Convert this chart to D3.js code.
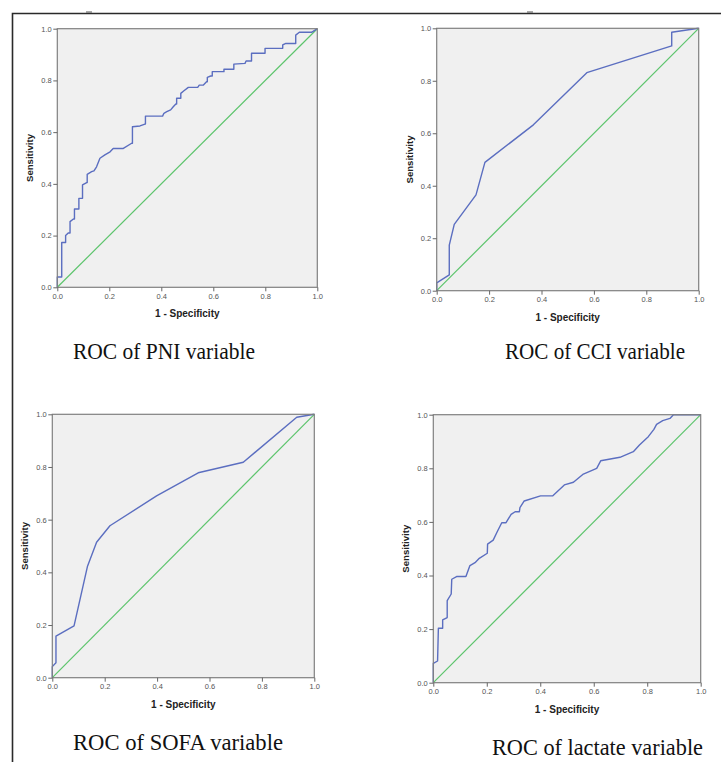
<!DOCTYPE html>
<html>
<head>
<meta charset="utf-8">
<script src="https://cdn.jsdelivr.net/npm/d3@7.9.0/dist/d3.min.js"></script>
<style>
  html, body { margin: 0; padding: 0; background: #fff; }
  svg { display: block; }
</style>
</head>
<body>
<div id="chart"></div>
<script>
// ===============================
// DATA: [1 - specificity, sensitivity]
// ===============================
const pniRoc = [
  [0,0],[0,0.04],[0.017,0.04],[0.017,0.173],[0.032,0.173],[0.032,0.20],[0.042,0.21],
  [0.049,0.21],[0.049,0.254],[0.062,0.264],[0.066,0.264],[0.066,0.303],[0.083,0.303],
  [0.083,0.344],[0.097,0.344],[0.097,0.396],[0.113,0.405],[0.115,0.405],[0.115,0.437],
  [0.132,0.447],[0.141,0.45],[0.151,0.466],[0.164,0.499],[0.183,0.512],[0.203,0.524],
  [0.215,0.537],[0.254,0.537],[0.286,0.557],[0.289,0.557],[0.289,0.621],[0.318,0.624],
  [0.337,0.631],[0.339,0.631],[0.339,0.662],[0.405,0.662],[0.41,0.673],[0.421,0.679],
  [0.436,0.686],[0.446,0.698],[0.456,0.709],[0.459,0.709],[0.459,0.731],[0.472,0.731],
  [0.475,0.731],[0.475,0.75],[0.487,0.76],[0.504,0.773],[0.54,0.773],[0.546,0.782],
  [0.562,0.782],[0.574,0.795],[0.577,0.795],[0.577,0.812],[0.59,0.817],[0.596,0.817],
  [0.596,0.834],[0.638,0.834],[0.641,0.834],[0.641,0.843],[0.677,0.843],[0.679,0.843],
  [0.679,0.863],[0.722,0.866],[0.726,0.875],[0.744,0.875],[0.747,0.875],[0.747,0.905],
  [0.796,0.905],[0.799,0.905],[0.799,0.924],[0.863,0.924],[0.867,0.924],[0.867,0.937],
  [0.879,0.943],[0.914,0.943],[0.917,0.943],[0.917,0.975],[0.931,0.986],[0.978,0.986],[1,1]
];
const cciRoc = [
  [0,0],[0,0.03],[0.048,0.06],[0.048,0.174],[0.067,0.253],[0.15,0.365],[0.184,0.489],
  [0.369,0.632],[0.573,0.831],[0.897,0.933],[0.897,0.985],[1,1]
];
const sofaRoc = [
  [0,0],[0,0.042],[0.014,0.057],[0.014,0.158],[0.083,0.197],[0.134,0.422],[0.169,0.514],
  [0.22,0.577],[0.398,0.69],[0.557,0.778],[0.729,0.818],[0.933,0.989],[1,1]
];
const lactateRoc = [
  [0,0],[0,0.072],[0.016,0.081],[0.019,0.203],[0.035,0.203],[0.035,0.234],[0.052,0.243],
  [0.052,0.306],[0.067,0.331],[0.069,0.386],[0.087,0.396],[0.122,0.396],[0.137,0.437],
  [0.156,0.448],[0.172,0.464],[0.202,0.483],[0.203,0.517],[0.224,0.532],[0.239,0.563],
  [0.256,0.597],[0.272,0.597],[0.291,0.628],[0.306,0.638],[0.322,0.638],[0.324,0.653],
  [0.34,0.678],[0.401,0.697],[0.446,0.697],[0.49,0.738],[0.524,0.748],[0.559,0.777],
  [0.611,0.8],[0.626,0.828],[0.698,0.841],[0.748,0.862],[0.771,0.887],[0.804,0.918],
  [0.825,0.945],[0.835,0.964],[0.858,0.978],[0.885,0.986],[0.898,1],[1,1]
];
const referenceLine = [[0,0],[1,1]];
const tickValues = [0, 0.2, 0.4, 0.6, 0.8, 1.0];
const titles = ["ROC of PNI variable", "ROC of CCI variable", "ROC of SOFA variable", "ROC of lactate variable"];
const xLabel = "1 - Specificity";
const yLabel = "Sensitivity";

// ===============================
// LAYOUT
// ===============================
const width = 721, height = 762;
const panels = [
  { data: pniRoc,     title: titles[0], left: 57.3,  right: 317.3, top: 28.7,  bottom: 287.3, tx: 73,  ty: 359, tw: 182 },
  { data: cciRoc,     title: titles[1], left: 436.7, right: 698.7, top: 28.3,  bottom: 290.7, tx: 505, ty: 359, tw: 180 },
  { data: sofaRoc,    title: titles[2], left: 52.3,  right: 314.3, top: 414.3, bottom: 677.7, tx: 73,  ty: 750, tw: 210 },
  { data: lactateRoc, title: titles[3], left: 433.3, right: 700.7, top: 414.7, bottom: 682.7, tx: 492, ty: 755, tw: 211 }
];

const svg = d3.select("#chart").append("svg")
  .attr("width", width)
  .attr("height", height);

// outer frame (top + left rules of the figure)
svg.append("path")
  .attr("d", `M12.5,${height} V13.5 H${width}`)
  .attr("fill", "none")
  .attr("stroke", "#2a2a2a")
  .attr("stroke-width", 1.6);
svg.append("line").attr("x1", 86).attr("x2", 92).attr("y1", 12).attr("y2", 12)
  .attr("stroke", "#555").attr("stroke-width", 1);
svg.append("line").attr("x1", 527).attr("x2", 533).attr("y1", 12).attr("y2", 12)
  .attr("stroke", "#555").attr("stroke-width", 1);

// ===============================
// PANELS
// ===============================
panels.forEach(p => {
  const x = d3.scaleLinear().domain([0, 1]).range([p.left, p.right]);
  const y = d3.scaleLinear().domain([0, 1]).range([p.bottom, p.top]);
  const g = svg.append("g");

  g.append("rect")
    .attr("x", p.left).attr("y", p.top)
    .attr("width", p.right - p.left).attr("height", p.bottom - p.top)
    .attr("fill", "#f0f0f0");

  const line = d3.line().x(d => x(d[0])).y(d => y(d[1]));

  g.append("path").datum(referenceLine)
    .attr("d", line)
    .attr("fill", "none")
    .attr("stroke", "#5cc46c")
    .attr("stroke-width", 1.2);

  g.append("path").datum(p.data)
    .attr("d", line)
    .attr("fill", "none")
    .attr("stroke", "#5b6ec0")
    .attr("stroke-width", 1.4)
    .attr("stroke-linejoin", "round");

  // frame of plot area
  g.append("rect")
    .attr("x", p.left).attr("y", p.top)
    .attr("width", p.right - p.left).attr("height", p.bottom - p.top)
    .attr("fill", "none")
    .attr("stroke", "#808080")
    .attr("stroke-width", 1.2);

  const fmt = d3.format(".1f");
  const xAxis = g.append("g")
    .attr("transform", `translate(0,${p.bottom})`)
    .call(d3.axisBottom(x).tickValues(tickValues).tickFormat(fmt).tickSize(4).tickPadding(2));
  const yAxis = g.append("g")
    .attr("transform", `translate(${p.left},0)`)
    .call(d3.axisLeft(y).tickValues(tickValues).tickFormat(fmt).tickSize(4).tickPadding(1.5));

  [xAxis, yAxis].forEach(a => {
    a.select(".domain").remove();
    a.selectAll(".tick line").attr("stroke", "#666");
    a.selectAll(".tick text")
      .attr("fill", "#555")
      .style("font-family", "'Liberation Sans', Arial, sans-serif")
      .style("font-size", "7.5px");
  });

  g.append("text")
    .attr("x", (p.left + p.right) / 2)
    .attr("y", p.bottom + 30)
    .attr("text-anchor", "middle")
    .style("font-family", "'Liberation Sans', Arial, sans-serif")
    .style("font-weight", "bold")
    .style("font-size", "10px")
    .attr("fill", "#222")
    .text(xLabel);

  g.append("text")
    .attr("transform", `translate(${p.left - 24},${(p.top + p.bottom) / 2}) rotate(-90)`)
    .attr("text-anchor", "middle")
    .style("font-family", "'Liberation Sans', Arial, sans-serif")
    .style("font-weight", "bold")
    .style("font-size", "9.6px")
    .attr("fill", "#222")
    .text(yLabel);

  svg.append("text")
    .attr("x", p.tx).attr("y", p.ty)
    .attr("textLength", p.tw)
    .attr("lengthAdjust", "spacingAndGlyphs")
    .style("font-family", "'Liberation Serif', 'Times New Roman', serif")
    .style("font-size", "23px")
    .attr("fill", "#111")
    .text(p.title);
});
</script>
</body>
</html>
